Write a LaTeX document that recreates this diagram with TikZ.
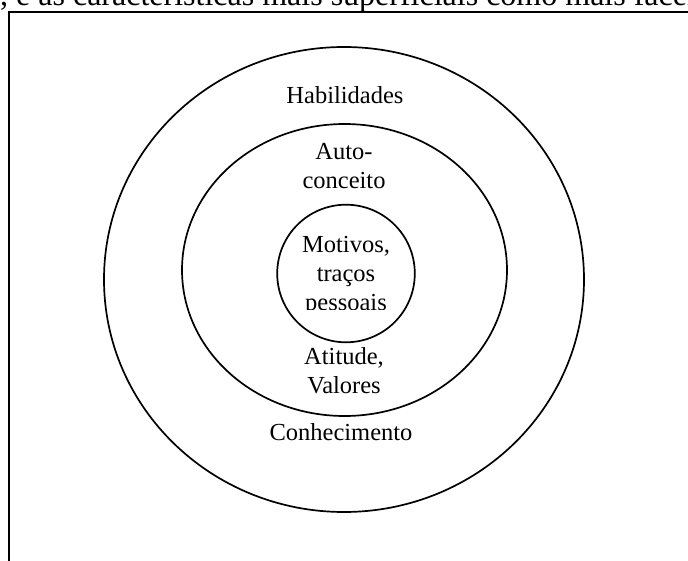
\documentclass[tikz,border=0pt]{standalone}
\usepackage{fontspec}
\setmainfont{Liberation Serif}
\begin{document}
\begin{tikzpicture}[x=1pt,y=-1pt,
  ring/.style={draw=black,line width=1.7pt},
  lbl/.style={anchor=base,inner sep=0pt,font=\fontsize{24.5}{29}\selectfont}]
\useasboundingbox (0,0) rectangle (688,561);
\clip (0,0) rectangle (688,561);
% running text of the page above the figure
\node[anchor=base west,inner sep=0pt,font=\fontsize{32}{38}\selectfont] (line) at (0,6)
  {, e as características mais superficiais como mais faceis};
% figure frame
\draw[line width=1.8pt] (9,700) -- (9,12) -- (720,12);
% concentric rings
\draw[ring] (344,279.5) ellipse [x radius=240, y radius=232.5];
\draw[ring] (344.5,270) ellipse [x radius=162.5, y radius=146];
\draw[ring] (346,273.5) circle [radius=68.8];
% labels
\node[lbl] (hab) at (345,104) {Habilidades};
\node[lbl] (auto1) at (344,160) {Auto-};
\node[lbl] (auto2) at (344,189) {conceito};
\begin{scope}
  \clip (250,200) rectangle (440,309.5);
  \node[lbl] (mot1) at (346,253) {Motivos,};
  \node[lbl] (mot2) at (346,282) {traços};
  \node[lbl] (mot3) at (346,311) {pessoais};
\end{scope}
\node[lbl] (ati1) at (344,364) {Atitude,};
\node[lbl] (ati2) at (344,393) {Valores};
\node[lbl] (con) at (341,440) {Conhecimento};
\end{tikzpicture}
\end{document}
